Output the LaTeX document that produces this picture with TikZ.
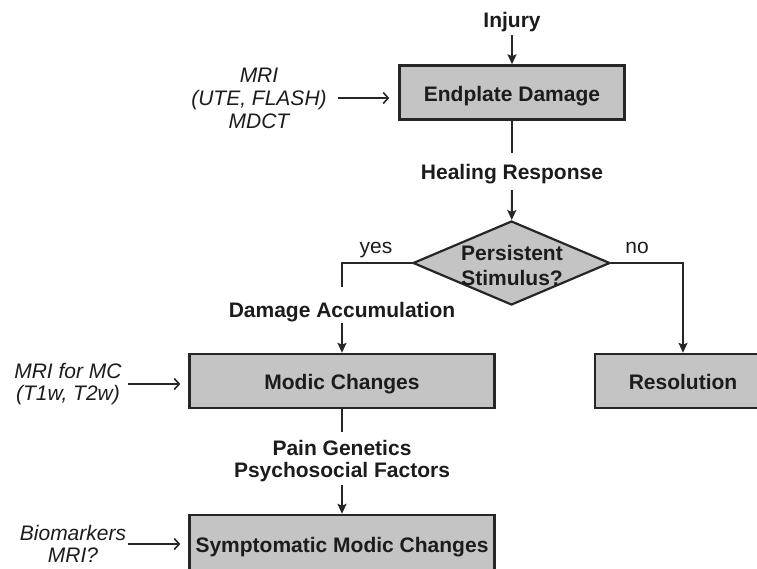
\documentclass[tikz,border=0pt]{standalone}
\usepackage{fontspec}
\setmainfont{Liberation Sans}
\usetikzlibrary{arrows.meta,shapes.geometric}
\definecolor{boxgray}{RGB}{196,196,196}
\definecolor{linec}{RGB}{38,38,38}
\definecolor{txtc}{RGB}{28,28,28}
\begin{document}
\begin{tikzpicture}[x=1pt,y=-1pt,
  every node/.style={text=txtc, font=\fontsize{21}{23}\selectfont},
  box/.style={draw=linec, line width=2.4pt, fill=boxgray, minimum height=54pt,
    inner sep=0pt, text height=17pt, text depth=0pt,
    font=\fontsize{21}{23}\selectfont\bfseries},
  lbl/.style={inner sep=0pt, outer sep=0pt, text height=15pt, text depth=0pt,
    font=\fontsize{21}{23}\selectfont\bfseries},
  lblm/.style={inner sep=0pt, outer sep=0pt, align=center},
  note/.style={inner sep=0pt, outer sep=0pt, align=center},
  yn/.style={inner sep=0pt, anchor=base, font=\fontsize{21}{23}\selectfont},
  conn/.style={draw=linec, line width=2pt},
  arr/.style={conn, -{Stealth[length=10pt,width=9pt,inset=2pt]}},
  thinarr/.style={draw=linec, line width=1.6pt, -{Straight Barb[length=5pt,width=11pt]}},
]
\useasboundingbox (0,0) rectangle (757,568);
\clip (0,0) rectangle (757,568);

% nodes
\node[lbl] (injury) at (512,19.5) {Injury};
\node[box, minimum width=225pt] (endplate) at (512,92.5) {Endplate Damage};
\node[lbl] (healing) at (512,171.5) {Healing Response};
\node[draw=linec, line width=2.2pt, fill=boxgray, diamond, minimum width=197pt,
      minimum height=84pt, inner sep=0pt] (dec) at (511.5,263) {};
\node[lblm, font=\fontsize{21}{25}\selectfont\bfseries] (dectext) at (512,265) {Persistent\\Stimulus?};
\node[yn] (yes) at (376,253) {yes};
\node[yn] (no) at (637,253) {no};
\node[lbl] (dmgacc) at (342,309.5) {Damage Accumulation};
\node[box, minimum width=305pt] (modic) at (342,381) {Modic Changes};
\node[box, minimum width=176pt] (resol) at (683,381) {Resolution};
\node[lblm, font=\fontsize{21}{22}\selectfont\bfseries] (paingen) at (342,460.7) {Pain Genetics\\Psychosocial Factors};
\node[box, minimum width=305pt, minimum height=58pt] (symp) at (342,544) {Symptomatic Modic Changes};

\node[note, font=\fontsize{21}{23}\selectfont\itshape] (imaging) at (259,98) {MRI\\(UTE, FLASH)\\MDCT};
\node[note, font=\fontsize{21}{22}\selectfont\itshape] (mrimc) at (68,384) {MRI for MC\\(T1w, T2w)};
\node[note, font=\fontsize{21}{22}\selectfont\itshape] (biomark) at (73,544) {Biomarkers\\MRI?};

% connectors
\draw[arr, shorten <=8pt] (injury) -- (endplate);
\draw[conn, shorten >=11pt] (endplate) -- (healing);
\draw[arr, shorten <=11pt] (healing) -- (dec);
\draw[conn, shorten >=15pt] (dec.west) -| (dmgacc.north);
\draw[arr, shorten <=6pt] (dmgacc) -- (modic);
\draw[arr] (dec.east) -| (resol.north);
\draw[conn, shorten >=8pt] (modic) -- (paingen);
\draw[arr, shorten <=3.5pt] (paingen) -- (symp);

\draw[thinarr, shorten <=11pt, shorten >=9pt] (imaging.east) -- (imaging.east -| endplate.west);
\draw[thinarr, shorten <=6pt, shorten >=8pt] (mrimc.east) -- (mrimc.east -| modic.west);
\draw[thinarr, shorten <=2pt, shorten >=8pt] (biomark.east) -- (biomark.east -| symp.west);
\end{tikzpicture}
\end{document}
